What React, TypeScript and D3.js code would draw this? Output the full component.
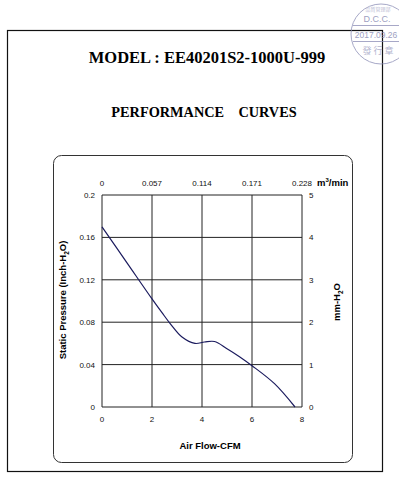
import * as d3 from 'd3';
import React, { useEffect, useRef } from 'react';

// flow (CFM) vs static pressure (inch-H2O)
const flowCfm = [0, 1, 2, 2.4, 2.75, 3.2, 3.72, 4.1, 4.5, 5.0, 5.5, 6.0, 6.9, 7.72];
const pressure = [0.170, 0.136, 0.102, 0.089, 0.078, 0.066, 0.060, 0.0613, 0.0618, 0.055, 0.0475, 0.039, 0.022, 0];

const bottomTicks = [0, 2, 4, 6, 8];
const leftTicks = [0, 0.04, 0.08, 0.12, 0.16, 0.2];
const topTicks = ['0', '0.057', '0.114', '0.171', '0.228'];
const rightTicks = [0, 1, 2, 3, 4, 5];

function App() {
  const ref = useRef<SVGSVGElement>(null);

  useEffect(() => {
    const svg = d3.select(ref.current);
    svg.selectAll('*').remove();

    const left = 102, right = 302, top = 195, bottom = 407;
    const sans = 'Liberation Sans, Arial, sans-serif';
    const serif = 'Liberation Serif, Times New Roman, serif';

    const x = d3.scaleLinear().domain([0, 8]).range([left, right]);
    const y = d3.scaleLinear().domain([0, 0.2]).range([bottom, top]);
    const xTop = d3.scalePoint<string>().domain(topTicks).range([left, right]);
    const yRight = d3.scaleLinear().domain([0, 5]).range([bottom, top]);

    // outer frame
    svg.append('rect')
      .attr('x', 7.5).attr('y', 30.5).attr('width', 375).attr('height', 441)
      .attr('fill', 'none').attr('stroke', '#111').attr('stroke-width', 1.2);

    // titles
    svg.append('text')
      .attr('x', 207).attr('y', 63).attr('text-anchor', 'middle')
      .style('font-family', serif).style('font-weight', 'bold').style('font-size', '16.5px')
      .text('MODEL : EE40201S2-1000U-999');
    svg.append('text')
      .attr('x', 204).attr('y', 117).attr('text-anchor', 'middle')
      .style('font-family', serif).style('font-weight', 'bold').style('font-size', '14.3px')
      .attr('xml:space', 'preserve')
      .text('PERFORMANCE    CURVES');

    // rounded inner box
    svg.append('rect')
      .attr('x', 53.5).attr('y', 155.5).attr('width', 299).attr('height', 307).attr('rx', 8)
      .attr('fill', 'none').attr('stroke', '#333').attr('stroke-width', 1);

    // grid
    const g = svg.append('g').attr('stroke', '#222').attr('stroke-width', 1);
    bottomTicks.forEach(t => {
      g.append('line').attr('x1', x(t)).attr('x2', x(t)).attr('y1', top).attr('y2', bottom);
    });
    leftTicks.forEach(t => {
      g.append('line').attr('x1', left).attr('x2', right).attr('y1', y(t)).attr('y2', y(t));
    });

    const lab = svg.append('g').style('font-family', sans).style('font-size', '8px').attr('fill', '#111');
    bottomTicks.forEach(t => {
      lab.append('text').attr('x', x(t)).attr('y', 422).attr('text-anchor', 'middle').text(t);
    });
    leftTicks.forEach(t => {
      lab.append('text').attr('x', 95).attr('y', y(t) + 3).attr('text-anchor', 'end').text(+t.toFixed(2));
    });
    topTicks.forEach(t => {
      lab.append('text').attr('x', xTop(t)!).attr('y', 186).attr('text-anchor', 'middle').text(t);
    });
    rightTicks.forEach(t => {
      lab.append('text').attr('x', 309).attr('y', yRight(t) + 3).text(t);
    });

    // unit labels
    const unit = svg.append('text').attr('x', 317).attr('y', 186)
      .style('font-family', sans).style('font-weight', 'bold').style('font-size', '9.5px');
    unit.append('tspan').text('m');
    unit.append('tspan').attr('dy', -4).style('font-size', '6px').text('3');
    unit.append('tspan').attr('dy', 4).text('/min');

    svg.append('text').attr('x', 210).attr('y', 449).attr('text-anchor', 'middle')
      .style('font-family', sans).style('font-weight', 'bold').style('font-size', '9.5px')
      .text('Air Flow-CFM');

    const yl = svg.append('text').attr('transform', 'translate(66,300) rotate(-90)').attr('text-anchor', 'middle')
      .style('font-family', sans).style('font-weight', 'bold').style('font-size', '9.5px');
    yl.append('tspan').text('Static Pressure (Inch-H');
    yl.append('tspan').attr('dy', 2.5).style('font-size', '6.5px').text('2');
    yl.append('tspan').attr('dy', -2.5).text('O)');

    const yr = svg.append('text').attr('transform', 'translate(340,302) rotate(-90)').attr('text-anchor', 'middle')
      .style('font-family', sans).style('font-weight', 'bold').style('font-size', '9.5px');
    yr.append('tspan').text('mm-H');
    yr.append('tspan').attr('dy', 2.5).style('font-size', '6.5px').text('2');
    yr.append('tspan').attr('dy', -2.5).text('O');

    // curve
    const line = d3.line<number>()
      .x((d, i) => x(flowCfm[i]))
      .y(d => y(d))
      .curve(d3.curveCatmullRom.alpha(0.5));
    svg.append('path').datum(pressure).attr('d', line)
      .attr('fill', 'none').attr('stroke', '#1b1b5e').attr('stroke-width', 1.2);

    // stamp
    const st = svg.append('g').attr('opacity', 0.75);
    st.append('circle').attr('cx', 381).attr('cy', 34).attr('r', 30)
      .attr('fill', 'none').attr('stroke', '#8a8cb5').attr('stroke-width', 1);
    st.append('line').attr('x1', 353).attr('x2', 399).attr('y1', 25.5).attr('y2', 25.5).attr('stroke', '#8a8cb5');
    st.append('line').attr('x1', 353).attr('x2', 399).attr('y1', 41.5).attr('y2', 41.5).attr('stroke', '#8a8cb5');
    st.append('text').attr('x', 377).attr('y', 22).attr('text-anchor', 'middle').attr('fill', '#7d80ad')
      .style('font-family', sans).style('font-size', '9px').text('D.C.C.');
    st.append('text').attr('x', 376).attr('y', 38).attr('text-anchor', 'middle').attr('fill', '#7d80ad')
      .style('font-family', sans).style('font-size', '8.5px').text('2017.09.26');
    st.append('text').attr('x', 378).attr('y', 54).attr('text-anchor', 'middle').attr('fill', '#9a9cc0')
      .attr('xml:space', 'preserve')
      .style('font-family', 'Noto Sans CJK TC, sans-serif').style('font-size', '9px').text('發 行 章');
    st.append('text').attr('x', 378).attr('y', 11).attr('text-anchor', 'middle').attr('fill', '#a6a8c8')
      .style('font-family', 'Noto Sans CJK TC, sans-serif').style('font-size', '5px').text('品質管理部');
  }, []);

  return (
    <svg ref={ref} width={399} height={482}
      style={{ position: 'absolute', left: 0, top: 0, background: '#fff' }} />
  );
}

export default App;
